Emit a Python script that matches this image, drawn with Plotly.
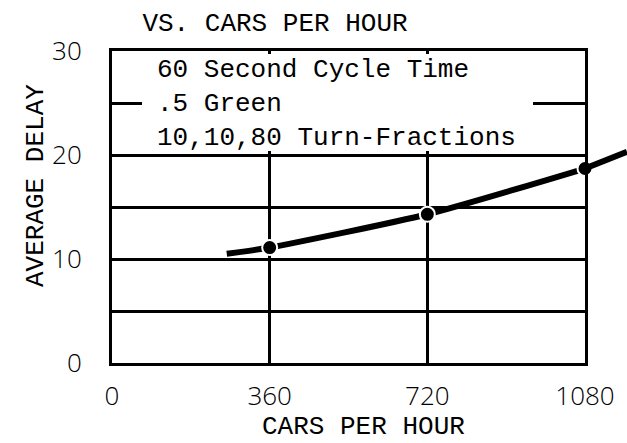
import plotly.graph_objects as go

# ---- data ----
cars_per_hour = [262, 360, 720, 1080]
avg_delay = [10.5, 11.1, 14.3, 18.7]
point_x = [360, 720, 1080]
point_y = [11.1, 14.3, 18.7]
ext_x = [1080, 1176]
ext_y = [18.7, 20.3]
x_ticks = [0, 360, 720, 1080]
box_lines = ["60 Second Cycle Time", ".5 Green", "10,10,80 Turn-Fractions"]

W, H = 627, 443
L, R, T, B = 112, 0, 51, 80          # plot frame: x 112..585, y 51..363
PW, PH = W - L - R, H - T - B
TYPE = "Liberation Mono, Courier New, monospace"
LETTER = "Open Sans, DejaVu Sans, sans-serif"


def px(xp):
    return (xp - L) / PW


def py(yp):
    return 1 - (yp - T) / PH


fig = go.Figure()

# main curve
fig.add_trace(go.Scatter(
    x=cars_per_hour, y=avg_delay, mode="lines",
    line=dict(color="black", width=6, shape="spline", smoothing=0.6),
    xaxis="x", yaxis="y", hoverinfo="skip", showlegend=False))
# measured points
fig.add_trace(go.Scatter(
    x=point_x, y=point_y, mode="markers",
    marker=dict(color="black", size=15, line=dict(color="white", width=2)),
    cliponaxis=False, xaxis="x", yaxis="y", showlegend=False))
# extension of the curve beyond the frame
fig.add_trace(go.Scatter(
    x=ext_x, y=ext_y, mode="lines",
    line=dict(color="black", width=6),
    xaxis="x2", yaxis="y2", hoverinfo="skip", showlegend=False))

xsplit = px(585)
grid = dict(showgrid=True, gridcolor="black", gridwidth=3)
tickfont = dict(family=LETTER, size=26, color="black", weight=300)

fig.update_layout(
    width=W, height=H,
    margin=dict(l=L, r=R, t=T, b=B, autoexpand=False),
    paper_bgcolor="white", plot_bgcolor="white",
    showlegend=False,
    title=dict(text="VS. CARS PER HOUR", x=275 / W, y=1 - 22 / H,
               xref="container", yref="container",
               xanchor="center", yanchor="middle",
               font=dict(family=TYPE, size=26, color="black")),
    xaxis=dict(domain=[0, xsplit], range=[0, 1080], tickvals=x_ticks,
               showline=True, mirror=True, linecolor="black", linewidth=3,
               zeroline=False, ticks="", ticklabelstandoff=8,
               automargin=False, tickfont=tickfont, **grid),
    yaxis=dict(domain=[0, 1], range=[0, 30], tick0=0, dtick=10,
               showline=True, mirror=True, linecolor="black", linewidth=3,
               zeroline=False, ticks="", ticklabelstandoff=22,
               automargin=False, tickfont=tickfont,
               minor=dict(dtick=5, **grid), **grid),
    xaxis2=dict(domain=[xsplit, 1.0], range=[1080, 1176], anchor="y2",
                visible=False, showgrid=False, zeroline=False,
                automargin=False),
    yaxis2=dict(domain=[0, 1], range=[0, 30], anchor="x2",
                visible=False, showgrid=False, zeroline=False,
                automargin=False),
)

# white panel behind the note (hides the grid in the upper part)
fig.add_shape(type="rect", xref="paper", yref="paper",
              x0=px(142), x1=px(533), y0=py(151), y1=py(54),
              fillcolor="white", line=dict(width=0), layer="above")

# note text
fig.add_annotation(
    xref="paper", yref="paper", x=px(155), y=py(104),
    xanchor="left", yanchor="middle", align="left", showarrow=False,
    text="<br>".join(box_lines),
    font=dict(family=TYPE, size=26, color="black"))

# axis titles
fig.add_annotation(
    xref="paper", yref="paper", x=px(36), y=py(186),
    textangle=-90, showarrow=False, xanchor="center", yanchor="middle",
    text="AVERAGE DELAY", font=dict(family=TYPE, size=26, color="black"))
fig.add_annotation(
    xref="paper", yref="paper", x=px(363), y=py(427),
    showarrow=False, xanchor="center", yanchor="middle",
    text="CARS PER HOUR", font=dict(family=TYPE, size=26, color="black"))

fig.write_html("out.html",
               config={"displayModeBar": False, "staticPlot": True},
               post_script="document.body.style.margin='0';"
                           "document.body.style.overflow='hidden';")
